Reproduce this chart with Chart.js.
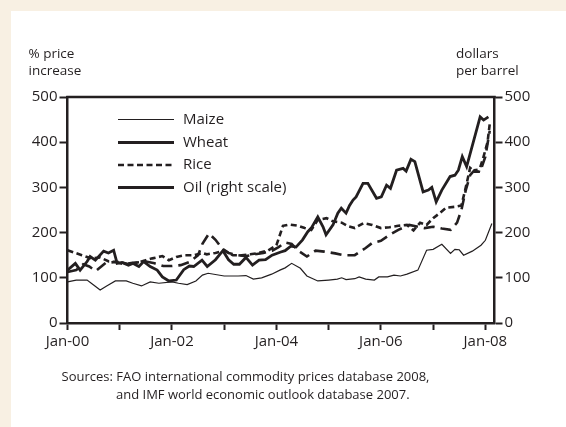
<!DOCTYPE html>
<html><head><meta charset="utf-8">
<script src="https://cdn.jsdelivr.net/npm/chart.js@4.4.0/dist/chart.umd.min.js"></script>
<style>html,body{margin:0;padding:0;background:#f8f0e3;} canvas{display:block}</style>
</head><body>
<canvas id="c" width="566" height="427"></canvas>
<script>
// ---- data (months counted from Jan-2000) ----
const xTickMonths = [0, 12, 24, 36, 48, 60, 72, 84, 96];
const xTickLabels = ['Jan-00', '', 'Jan-02', '', 'Jan-04', '', 'Jan-06', '', 'Jan-08'];
const yTickValues = [0, 100, 200, 300, 400, 500];

const seriesNames = ['Maize', 'Wheat', 'Rice', 'Oil (right scale)'];

const maizeMonths = [0, 2, 4.5, 6, 7.5, 9, 11, 13.5, 15, 17, 19, 21, 24, 25.5, 27.5, 29.5, 31, 32.3, 36, 39.2, 41, 42.7, 44.6, 46.9, 48.8, 50, 51.5, 53.5, 55, 57.5, 60, 62, 63, 64, 66, 67, 68.5, 70.5, 71.5, 73.5, 75, 76.5, 78, 80.5, 82.5, 84, 86, 88, 89, 90, 91, 93, 95, 96, 97.5];
const maizeValues = [91, 95, 95, 84, 73, 82, 93, 93, 88, 82, 91, 88, 91, 88, 85, 93, 106, 110, 104, 104, 105, 97, 100, 108, 117, 122, 132, 121, 104, 93, 95, 97, 100, 96, 98, 102, 97, 95, 102, 102, 106, 104, 108, 117, 161, 163, 174, 154, 163, 162, 150, 159, 172, 183, 220];

const wheatMonths = [0, 2, 3.6, 5, 6.5, 8.8, 11, 13, 15, 18, 20, 22, 24, 26, 28, 30, 31, 32.5, 34, 35.5, 37, 39, 41, 43, 45, 47, 48.5, 50, 51.5, 53, 55, 57, 59, 61.5, 63.5, 66, 68.5, 70, 72, 74, 76, 78.5, 80, 82, 84, 86, 88, 89.5, 90.5, 91.5, 92.5, 93.5, 95, 96, 97];
const wheatValues = [113, 117, 130, 125, 115, 133, 135, 130, 133, 136, 132, 126, 126, 128, 135, 150, 175, 198, 184, 165, 155, 150, 148, 152, 155, 160, 168, 178, 175, 160, 147, 160, 158, 154, 150, 150, 166, 177, 182, 195, 206, 217, 214, 210, 213, 209, 206, 222, 250, 294, 327, 338, 340, 368, 425];

const riceMonths = [0, 3.3, 5.5, 7.5, 9.5, 12, 14, 16, 18, 19.5, 21.8, 23.3, 25, 27, 29, 31, 32, 34, 36, 38, 40, 42, 44, 46, 48, 49.5, 51, 53, 54.5, 56, 57.5, 59.5, 61, 63, 64.5, 66, 68, 70, 72, 74, 76, 78, 79.5, 81, 82.5, 84, 85.5, 87, 89, 90.5, 91.5, 92.5, 93.5, 94.5, 95.5, 96.5, 97];
const riceValues = [161, 150, 143, 145, 136, 135, 130, 133, 139, 143, 148, 139, 146, 150, 150, 155, 152, 155, 160, 150, 150, 152, 155, 160, 172, 215, 218, 215, 210, 206, 228, 232, 225, 222, 214, 210, 221, 217, 210, 212, 215, 217, 205, 222, 217, 232, 243, 255, 257, 260, 300, 343, 335, 335, 365, 400, 440];

const oilMonths = [0, 1.8, 2.9, 4.5, 5.2, 6.4, 8.3, 9.4, 10.6, 11.4, 12.5, 14, 15, 16.4, 17.5, 19, 20.6, 21.8, 23.3, 25, 26.7, 28, 29, 30.9, 32.1, 34, 35.7, 37, 38.2, 39.5, 41, 42.5, 44, 45.5, 47, 49, 50, 51.3, 52.5, 54, 55.2, 56, 57.5, 58.7, 59.4, 61, 62.1, 62.9, 64, 64.8, 65.6, 66.3, 67.9, 69, 71, 72.1, 73.3, 74.2, 75.6, 77.1, 77.8, 78.9, 79.8, 81.7, 82.9, 83.7, 84.7, 86, 87.9, 89, 89.8, 90.7, 91.7, 94.8, 95.6, 96.7];
const oilValues = [117, 132, 117, 136, 147, 139, 159, 155, 161, 132, 134, 128, 132, 125, 136, 125, 117, 102, 93, 95, 118, 126, 125, 139, 125, 140, 160, 140, 130, 130, 145, 128, 139, 140, 150, 157, 160, 170, 168, 184, 202, 210, 235, 213, 195, 217, 243, 254, 243, 260, 272, 279, 309, 309, 276, 279, 305, 298, 338, 342, 336, 362, 357, 290, 294, 300, 268, 294, 324, 327, 338, 368, 346, 456, 449, 456];

const sourceLines = ['Sources: FAO international commodity prices database 2008,', 'and IMF world economic outlook database 2007.'];
const leftAxisTitle = ['% price', 'increase'];
const rightAxisTitle = ['dollars', 'per barrel'];

// ---- styling ----
const INK = '#231f20';
const FONT = '"Open Sans", "Noto Sans", sans-serif';

function pts(ms, vs) { return ms.map((m, i) => ({ x: m, y: vs[i] })); }

const legendStyles = [
  { width: 1.2, dash: [] },
  { width: 2.8, dash: [] },
  { width: 2.6, dash: [6, 3.5] },
  { width: 2.8, dash: [] }
];

const decorPlugin = {
  id: 'decor',
  beforeDraw(chart) {
    const c = chart.ctx;
    c.save();
    c.fillStyle = '#f8f0e3';
    c.fillRect(0, 0, chart.width, chart.height);
    c.fillStyle = '#ffffff';
    c.fillRect(11, 11, chart.width - 11, chart.height - 11);
    c.restore();
  },
  afterDatasetsDraw(chart) {
    const c = chart.ctx, a = chart.chartArea;
    c.save();
    // top frame line
    c.strokeStyle = INK; c.lineWidth = 2.5;
    c.beginPath(); c.moveTo(a.left - 1.25, a.top); c.lineTo(a.right + 1.25, a.top); c.stroke();
    // legend
    const rowsY = [119.5, 142.5, 165, 187.5];
    c.font = '15px ' + FONT; c.fillStyle = INK; c.textBaseline = 'alphabetic';
    chart.data.datasets.forEach((ds, i) => {
      const st = legendStyles[i];
      c.lineWidth = st.width; c.setLineDash(st.dash);
      c.beginPath(); c.moveTo(118, rowsY[i]); c.lineTo(174, rowsY[i]); c.stroke();
      c.setLineDash([]);
      c.fillText(ds.label, 183, rowsY[i] + 4);
    });
    // axis titles
    c.font = '13.5px ' + FONT;
    c.textAlign = 'left';
    c.fillText(leftAxisTitle[0], 28.5, 57.5);
    c.fillText(leftAxisTitle[1], 28.5, 74.5);
    c.fillText(rightAxisTitle[0], 456, 57.5);
    c.fillText(rightAxisTitle[1], 456, 74.5);
    // sources
    c.font = '13px ' + FONT;
    c.fillText(sourceLines[0], 61.5, 381);
    c.fillText(sourceLines[1], 116, 398.5);
    c.restore();
  }
};

const yAxis = (pos, w) => ({
  type: 'linear', position: pos, min: 0, max: 500,
  afterBuildTicks: s => { s.ticks = yTickValues.map(v => ({ value: v })); },
  afterFit: s => { s.width = w; },
  ticks: { color: INK, font: { family: FONT, size: 15 }, padding: 2 },
  grid: { drawOnChartArea: false, drawTicks: true, tickLength: 8, tickWidth: 2, tickColor: INK },
  border: { display: true, width: 2.5, color: INK }
});

new Chart(document.getElementById('c'), {
  type: 'line',
  data: {
    datasets: [
      { label: seriesNames[0], data: pts(maizeMonths, maizeValues), borderColor: INK, borderWidth: 1.2, yAxisID: 'y' },
      { label: seriesNames[1], data: pts(wheatMonths, wheatValues), borderColor: INK, borderWidth: 2.6, borderDash: [11, 6], yAxisID: 'y' },
      { label: seriesNames[2], data: pts(riceMonths, riceValues), borderColor: INK, borderWidth: 2.6, borderDash: [6, 3.5], yAxisID: 'y' },
      { label: seriesNames[3], data: pts(oilMonths, oilValues), borderColor: INK, borderWidth: 2.8, yAxisID: 'y2' }
    ]
  },
  options: {
    responsive: false, animation: false, devicePixelRatio: 1,
    layout: { padding: { top: 97, left: 0, right: 0, bottom: 0 } },
    elements: { point: { radius: 0, hoverRadius: 0 }, line: { tension: 0, fill: false } },
    plugins: { legend: { display: false }, tooltip: { enabled: false } },
    scales: {
      x: {
        type: 'linear', position: 'bottom', min: 0, max: 98.1,
        afterBuildTicks: s => { s.ticks = xTickMonths.map(v => ({ value: v })); },
        afterFit: s => { s.height = 104; },
        ticks: {
          color: INK, font: { family: FONT, size: 15 }, padding: 3, maxRotation: 0, autoSkip: false,
          callback: (v) => { const i = xTickMonths.indexOf(v); return i >= 0 ? xTickLabels[i] : ''; }
        },
        grid: { drawOnChartArea: false, drawTicks: true, tickLength: 7, tickWidth: 2, tickColor: INK },
        border: { display: true, width: 2.5, color: INK }
      },
      y: yAxis('left', 67.5),
      y2: yAxis('right', 71.5)
    }
  },
  plugins: [decorPlugin]
});
</script>
</body></html>
